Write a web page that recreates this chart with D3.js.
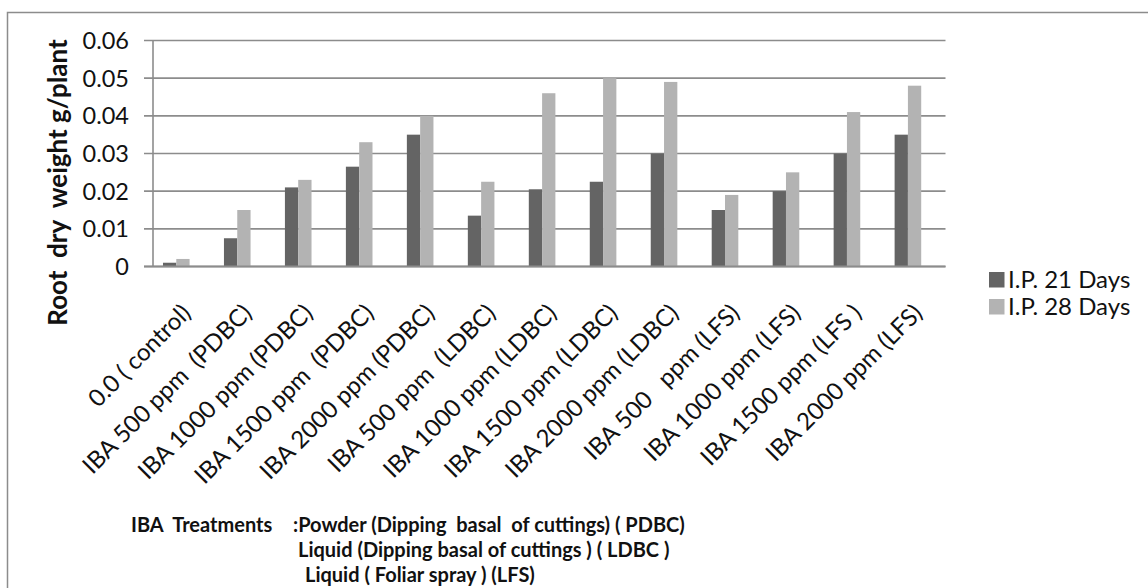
<!DOCTYPE html>
<html>
<head>
<meta charset="utf-8">
<script src="https://cdn.jsdelivr.net/npm/d3@7"></script>
<style>
  body { margin: 0; background: #fff; }
  text { font-family: Lato, "Open Sans", sans-serif; white-space: pre; }
</style>
</head>
<body>
<svg id="chart" width="1148" height="588"></svg>
<script>
// treatments on the x axis
const categories = [
  "0.0 ( control)",
  "IBA 500 ppm  (PDBC)",
  "IBA 1000 ppm (PDBC)",
  "IBA 1500 ppm  (PDBC)",
  "IBA 2000 ppm (PDBC)",
  "IBA 500 ppm  (LDBC)",
  "IBA 1000 ppm (LDBC)",
  "IBA 1500 ppm (LDBC)",
  "IBA 2000 ppm (LDBC)",
  "IBA 500   ppm (LFS)",
  "IBA 1000 ppm (LFS)",
  "IBA 1500 ppm (LFS )",
  "IBA 2000 ppm (LFS)"
];

const seriesNames = ["I.P. 21 Days", "I.P. 28 Days"];

// root dry weight g/plant
const days21 = [0.001, 0.0075, 0.021, 0.0265, 0.035, 0.0135, 0.0205, 0.0225, 0.030, 0.015, 0.020, 0.030, 0.035];
const days28 = [0.002, 0.015, 0.023, 0.033, 0.040, 0.0225, 0.046, 0.050, 0.049, 0.019, 0.025, 0.041, 0.048];

const yTicks = [0, 0.01, 0.02, 0.03, 0.04, 0.05, 0.06];

const footLines = [
  "IBA  Treatments",
  ":Powder (Dipping  basal  of cuttings) ( PDBC)",
  "Liquid (Dipping basal of cuttings ) ( LDBC )",
  "Liquid ( Foliar spray ) (LFS)"
];

const colors = ["#646464", "#b3b3b3"];

const svg = d3.select("#chart");

// outer chart border (runs off the right and bottom)
svg.append("rect")
  .attr("x", 7.5)
  .attr("y", 12.5)
  .attr("width", 1200)
  .attr("height", 700)
  .attr("fill", "none")
  .attr("stroke", "#8c8c8c")
  .attr("stroke-width", 1.5);

// scales
const x = d3.scaleBand().domain(categories).range([145.8, 938.4]).padding(0);
const x1 = d3.scaleBand().domain(seriesNames).range([0, 26.6]);
const y = d3.scaleLinear().domain([0, 0.06]).range([266.5, 40.5]);

// horizontal gridlines with small outside ticks
svg.append("g")
  .selectAll("line")
  .data(yTicks)
  .join("line")
  .attr("x1", 144)
  .attr("x2", 945.5)
  .attr("y1", (d) => y(d))
  .attr("y2", (d) => y(d))
  .attr("stroke", "#8c8c8c")
  .attr("stroke-width", 1.6);

// vertical axis line
svg.append("line")
  .attr("x1", 153)
  .attr("x2", 153)
  .attr("y1", y(0.06))
  .attr("y2", y(0))
  .attr("stroke", "#8c8c8c")
  .attr("stroke-width", 1.6);

// y tick labels
svg.append("g")
  .selectAll("text")
  .data(yTicks)
  .join("text")
  .attr("x", 129)
  .attr("y", (d) => y(d))
  .attr("dy", "0.36em")
  .attr("text-anchor", "end")
  .attr("font-size", 23.5)
  .attr("fill", "#111")
  .text((d) => (d === 0 ? "0" : d3.format(".2f")(d)));

// y axis title
svg.append("text")
  .attr("transform", `translate(67,${(40 + 325) / 2}) rotate(-90)`)
  .attr("text-anchor", "middle")
  .attr("font-size", 26)
  .attr("font-weight", "bold")
  .attr("fill", "#111")
  .text("Root  dry  weight g/plant");

// bars
const rows = categories.map((c, i) => ({ cat: c, values: [days21[i], days28[i]] }));
const groups = svg.append("g")
  .selectAll("g")
  .data(rows)
  .join("g")
  .attr("transform", (d) => `translate(${x(d.cat) + x.bandwidth() / 2 - 13.3},0)`);

groups.selectAll("rect")
  .data((d) => d.values.map((v, k) => ({ key: seriesNames[k], v, k })))
  .join("rect")
  .attr("x", (d) => x1(d.key))
  .attr("width", x1.bandwidth())
  .attr("y", (d) => y(d.v))
  .attr("height", (d) => y(0) - y(d.v))
  .attr("fill", (d) => colors[d.k]);

// bottom axis line drawn over the bar bases
svg.append("line")
  .attr("x1", 144)
  .attr("x2", 945.5)
  .attr("y1", y(0))
  .attr("y2", y(0))
  .attr("stroke", "#8c8c8c")
  .attr("stroke-width", 2);

// rotated category labels
svg.append("g")
  .selectAll("text")
  .data(categories)
  .join("text")
  .attr("transform", (d) => `translate(${x(d) + x.bandwidth() / 2 + 16},${y(0) + 48}) rotate(-45)`)
  .attr("text-anchor", "end")
  .attr("font-size", 24)
  .attr("fill", "#111")
  .text((d) => d);

// legend
const legend = svg.append("g")
  .selectAll("g")
  .data(seriesNames)
  .join("g")
  .attr("transform", (d, i) => `translate(989,${272 + i * 27})`);

legend.append("rect")
  .attr("width", 15.5)
  .attr("height", 15.5)
  .attr("fill", (d, i) => colors[i]);

legend.append("text")
  .attr("x", 19)
  .attr("y", 15.5)
  .attr("font-size", 24)
  .attr("fill", "#111")
  .text((d) => d);

// treatment key under the chart
const foot = svg.append("g")
  .attr("font-size", 20)
  .attr("font-weight", "bold")
  .attr("fill", "#111");

foot.append("text").attr("x", 131).attr("y", 532).text(footLines[0]);
foot.append("text").attr("x", 293).attr("y", 532).text(footLines[1]);
foot.append("text").attr("x", 298).attr("y", 557).text(footLines[2]);
foot.append("text").attr("x", 305).attr("y", 582).text(footLines[3]);
</script>
</body>
</html>
